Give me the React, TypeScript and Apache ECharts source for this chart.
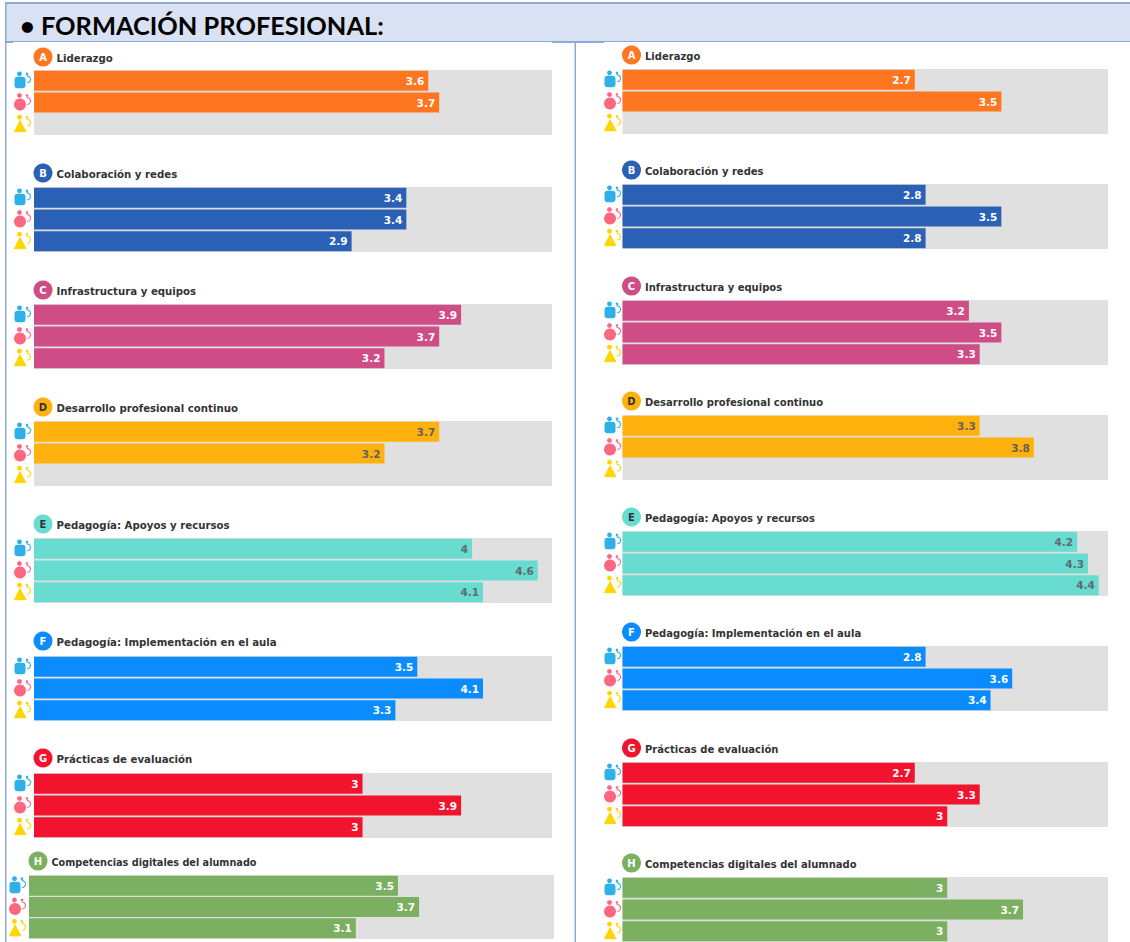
import React, { useEffect, useRef } from "react";
import * as echarts from "echarts";

const heading = "• FORMACIÓN PROFESIONAL:";
const letters = ["A", "B", "C", "D", "E", "F", "G", "H"];
const areas = [
  "Liderazgo",
  "Colaboración y redes",
  "Infrastructura y equipos",
  "Desarrollo profesional continuo",
  "Pedagogía: Apoyos y recursos",
  "Pedagogía: Implementación en el aula",
  "Prácticas de evaluación",
  "Competencias digitales del alumnado",
];
const colors = ["#ff7620", "#2a60b5", "#cf4d87", "#ffb20d", "#68dcd0", "#0a8cff", "#f2132f", "#7bb060"];
const labelColors = ["#ffffff", "#ffffff", "#ffffff", "#66605a", "#5f6b6a", "#ffffff", "#ffffff", "#ffffff"];
const roles = ["Directivos", "Profesorado", "Alumnado"];

const leftValues: (number | null)[][] = [
  [3.6, 3.7, null],
  [3.4, 3.4, 2.9],
  [3.9, 3.7, 3.2],
  [3.7, 3.2, null],
  [4, 4.6, 4.1],
  [3.5, 4.1, 3.3],
  [3, 3.9, 3],
  [3.5, 3.7, 3.1],
];
const rightValues: (number | null)[][] = [
  [2.7, 3.5, null],
  [2.8, 3.5, 2.8],
  [3.2, 3.5, 3.3],
  [3.3, 3.8, null],
  [4.2, 4.3, 4.4],
  [2.8, 3.6, 3.4],
  [2.7, 3.3, 3],
  [3, 3.7, 3],
];

const leftTops = [70, 187, 304, 421, 538, 656, 773, 875];
const rightTops = [69, 184, 300, 415, 531, 646, 762, 877];
const leftTitleY = [58, 174, 291, 408, 525, 642, 759, 862];
const rightTitleY = [56, 171, 287, 402, 518, 633, 749, 864];

function panel(tops: number[], titleYs: number[], values: (number | null)[][], side: "l" | "r") {
  const grids: any[] = [], xAxes: any[] = [], yAxes: any[] = [], series: any[] = [], graphics: any[] = [];
  tops.forEach((top, i) => {
    const isLeftH = side === "l" && i === 7;
    const x = side === "r" ? 622.5 : isLeftH ? 29 : 34;
    const w = side === "r" ? 485.5 : isLeftH ? 525 : 518;
    const max = side === "r" ? 4.485 : isLeftH ? 4.98 : 4.73;
    const h = isLeftH ? 64 : 65;
    const titleSize = side === "r" ? 10 : isLeftH ? 9.7 : 10.2;
    grids.push({ left: x, top, width: w, height: h, show: true, backgroundColor: "#e0e0e0", borderWidth: 0 });
    graphics.push({ x, y: titleYs[i], letter: letters[i], title: areas[i], color: colors[i], top, h, titleSize, iconX: side === "r" ? x - 10.5 : x - 12 });
    xAxes.push({ min: 0, max, show: false });
    yAxes.push({ type: "category", data: roles, inverse: true, show: false });
    series.push({
      type: "bar",
      data: values[i],
      barWidth: 20,
      itemStyle: { color: colors[i] },
      label: {
        show: true,
        position: "insideRight",
        distance: 4,
        fontFamily: "DejaVu Sans",
        fontWeight: "bold",
        fontSize: 10.5,
        color: labelColors[i],
      },
      silent: true,
    });
  });
  return { grids, xAxes, yAxes, series, graphics };
}

function personIcon(cx: number, cy: number, kind: number): any {
  const main = ["#2fb0e8", "#ff6680", "#ffd500"][kind];
  const body =
    kind === 0
      ? { type: "rect", shape: { x: cx - 7.5, y: cy - 3.5, width: 11, height: 11.5, r: 3 }, style: { fill: main } }
      : kind === 1
      ? { type: "circle", shape: { cx: cx - 2, cy: cy + 2.5, r: 6 }, style: { fill: main } }
      : { type: "polygon", shape: { points: [[cx - 7.5, cy + 8], [cx + 4, cy + 8], [cx - 2, cy - 3]] }, style: { fill: main, stroke: main, lineWidth: 1, lineJoin: "round" } };
  return {
    type: "group",
    silent: true,
    children: [
      body,
      { type: "circle", shape: { cx: cx - 2.5, cy: cy - 6.5, r: 2.4 }, style: { fill: main } },
      { type: "circle", shape: { cx: cx + 5, cy: cy - 6.5, r: 1.3 }, style: { fill: main } },
      { type: "arc", shape: { cx: cx + 5, cy: cy - 1, r: 3.5, startAngle: -1.7, endAngle: 1.5 }, style: { stroke: main, lineWidth: 1.1, fill: "none" } },
    ],
  };
}

export default function App() {
  const ref = useRef<HTMLDivElement>(null);
  useEffect(() => {
    document.body.style.margin = "0";
    const chart = echarts.init(ref.current!, null, { renderer: "svg" });
    const l = panel(leftTops, leftTitleY, leftValues, "l");
    const r = panel(rightTops, rightTitleY, rightValues, "r");
    const grids = [...l.grids, ...r.grids];
    const xAxis = [...l.xAxes, ...r.xAxes].map((a, i) => ({ ...a, gridIndex: i }));
    const yAxis = [...l.yAxes, ...r.yAxes].map((a, i) => ({ ...a, gridIndex: i }));
    const series = [...l.series, ...r.series].map((s, i) => ({ ...s, xAxisIndex: i, yAxisIndex: i }));
    const elements: any[] = [
      { type: "rect", shape: { x: 5, y: 3, width: 1125, height: 38.5 }, style: { fill: "#d9e2f3" }, silent: true },
      { type: "rect", shape: { x: 5, y: 2, width: 1125, height: 2 }, style: { fill: "#8eaadb" }, silent: true },
      { type: "rect", shape: { x: 5, y: 41, width: 1125, height: 1 }, style: { fill: "#8eaadb" }, silent: true },
      { type: "rect", shape: { x: 552, y: 42, width: 52, height: 1 }, style: { fill: "#8eaadb" }, silent: true },
      { type: "rect", shape: { x: 5, y: 42, width: 8, height: 1 }, style: { fill: "#8eaadb" }, silent: true },
      { type: "rect", shape: { x: 5, y: 3, width: 1.5, height: 939 }, style: { fill: "#8eaadb" }, silent: true },
      { type: "rect", shape: { x: 574.5, y: 42, width: 1.5, height: 900 }, style: { fill: "#8eaadb" }, silent: true },
      {
        type: "text",
        silent: true,
        style: { x: 20, y: 12, text: heading, fontFamily: "Lato", fontWeight: "bold", fontSize: 25.4, fill: "#000000" },
      },
    ];
    [...l.graphics, ...r.graphics].forEach((g) => {
      elements.push({ type: "circle", silent: true, shape: { cx: g.x + 9, cy: g.y - 1, r: 9.5 }, style: { fill: g.color } });
      elements.push({
        type: "text",
        silent: true,
        style: { x: g.x + 9, y: g.y - 6, text: g.letter, textAlign: "center", fontFamily: "DejaVu Sans", fontWeight: "bold", fontSize: 10, fill: g.letter === "D" || g.letter === "E" ? "#333333" : "#ffffff" },
      });
      elements.push({
        type: "text",
        silent: true,
        style: { x: g.x + 22.5, y: g.y - 4.5, text: g.title, fontFamily: "DejaVu Sans", fontWeight: "bold", fontSize: g.titleSize, fill: "#333333" },
      });
      [0, 1, 2].forEach((k) => elements.push(personIcon(g.iconX, g.top + g.h * (k + 0.5) / 3 - 0.5, k)));
    });
    chart.setOption({
      animation: false,
      backgroundColor: "#ffffff",
      grid: grids,
      xAxis,
      yAxis,
      series,
      graphic: { elements },
    });
    return () => chart.dispose();
  }, []);
  return <div ref={ref} style={{ position: "absolute", left: 0, top: 0, width: 1130, height: 942 }} />;
}
